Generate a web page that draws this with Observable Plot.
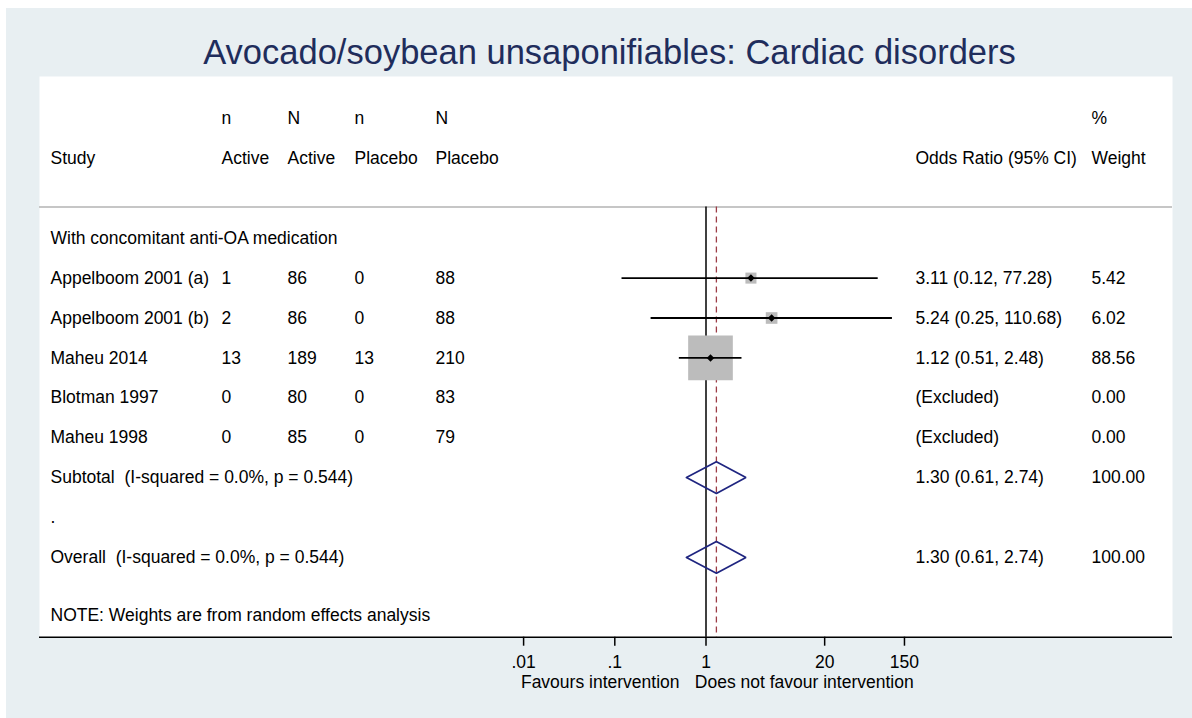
<!DOCTYPE html>
<html>
<head>
<meta charset="utf-8">
<script src="https://cdn.jsdelivr.net/npm/d3@7"></script>
<script src="https://cdn.jsdelivr.net/npm/@observablehq/plot@0.6"></script>
<style>
  html, body { margin: 0; padding: 0; background: #ffffff; }
  #chart { position: absolute; left: 6px; top: 8px; }
  svg text { white-space: pre; }
</style>
</head>
<body>
<div id="chart"></div>
<script>
// ---- data ----
const title = "Avocado/soybean unsaponifiables: Cardiac disorders";
const headerTop = ["", "n", "N", "n", "N", "", "%"];
const headerBottom = ["Study", "Active", "Active", "Placebo", "Placebo", "Odds Ratio (95% CI)", "Weight"];
const groupLabel = "With concomitant anti-OA medication";
const studies = ["Appelboom 2001 (a)", "Appelboom 2001 (b)", "Maheu 2014", "Blotman 1997", "Maheu 1998"];
const nActive = [1, 2, 13, 0, 0];
const NActive = [86, 86, 189, 80, 85];
const nPlacebo = [0, 0, 13, 0, 0];
const NPlacebo = [88, 88, 210, 83, 79];
const oddsRatio = [3.11, 5.24, 1.12, null, null];
const ciLow = [0.12, 0.25, 0.51, null, null];
const ciHigh = [77.28, 110.68, 2.48, null, null];
const weights = [5.42, 6.02, 88.56, 0.00, 0.00];
const pooledLabels = ["Subtotal  (I-squared = 0.0%, p = 0.544)", "Overall  (I-squared = 0.0%, p = 0.544)"];
const pooledOR = [1.30, 1.30];
const pooledLow = [0.61, 0.61];
const pooledHigh = [2.74, 2.74];
const pooledWeight = [100.00, 100.00];
const noteText = "NOTE: Weights are from random effects analysis";
const tickValues = [0.01, 0.1, 1, 20, 150];
const tickLabels = [".01", ".1", "1", "20", "150"];
const axisLeftLabel = "Favours intervention";
const axisRightLabel = "Does not favour intervention";

// ---- layout (rows) ----
const fmt = v => v.toFixed(2);
const studyRows = studies.map((s, i) => ({
  row: 4 + i,
  or: oddsRatio[i], lo: ciLow[i], hi: ciHigh[i], w: weights[i],
  cells: [s, String(nActive[i]), String(NActive[i]), String(nPlacebo[i]), String(NPlacebo[i]),
          oddsRatio[i] == null ? "(Excluded)" : `${fmt(oddsRatio[i])} (${fmt(ciLow[i])}, ${fmt(ciHigh[i])})`,
          fmt(weights[i])]
}));
const pooledRows = pooledLabels.map((l, i) => ({
  row: i === 0 ? 9 : 11,
  or: pooledOR[i], lo: pooledLow[i], hi: pooledHigh[i],
  cells: [l, "", "", "", "", `${fmt(pooledOR[i])} (${fmt(pooledLow[i])}, ${fmt(pooledHigh[i])})`, fmt(pooledWeight[i])]
}));
const textRows = [
  {row: 0, cells: headerTop},
  {row: 1, cells: headerBottom},
  {row: 3, cells: [groupLabel]},
  ...studyRows,
  ...pooledRows,
  {row: 10, cells: ["."]},
  {row: 12.45, cells: [noteText]}
];
const colOffsets = [11, 182, 248, 315, 396, 876, 1052];

const diamondHalf = 0.4;
const diamondPts = pooledRows.flatMap((d, k) => [
  {id: k, x: d.lo, y: d.row},
  {id: k, x: d.or, y: d.row - diamondHalf},
  {id: k, x: d.hi, y: d.row},
  {id: k, x: d.or, y: d.row + diamondHalf},
  {id: k, x: d.lo, y: d.row}
]);
const shown = studyRows.filter(d => d.or != null);
const sepRow = 2.22, axisRow = 13;

const navy = "#1f2580";
const textMarks = colOffsets.map((dx, c) =>
  Plot.text(textRows.filter(r => r.cells[c]), {
    y: "row", text: r => r.cells[c], frameAnchor: "left", dx, textAnchor: "start", fill: "black"
  })
);

const chart = Plot.plot({
  width: 1186,
  height: 710,
  marginLeft: 33,
  marginRight: 20,
  marginTop: 68,
  marginBottom: 81.3,
  style: {fontFamily: "'Liberation Sans', Arial, Helvetica, sans-serif", fontSize: "17.5px", background: "#e8eff2", color: "black"},
  x: {type: "log", domain: [Math.pow(10, -7.308), Math.pow(10, 5.115)], range: [33, 1166]},
  y: {type: "linear", domain: [0, 13], range: [110, 628.7], axis: null},
  r: {type: "sqrt", domain: [0, 88.56], range: [0, 25.2]},
  marks: [
    Plot.frame({fill: "white", stroke: "none"}),
    Plot.text([title], {frameAnchor: "top", dy: -24, dx: 3.5, lineAnchor: "middle", fontSize: 34.5, fill: "#1f2d5c"}),
    Plot.ruleY([sepRow], {stroke: "#c6c6c6", strokeWidth: 2}),
    Plot.ruleX([1], {y1: sepRow, y2: axisRow, stroke: "black", strokeWidth: 1.5}),
    Plot.ruleX([pooledOR[1]], {y1: sepRow, y2: axisRow, stroke: "#9c3c46", strokeWidth: 1.3, strokeDasharray: "6,4"}),
    Plot.dot(shown, {x: "or", y: "row", r: "w", symbol: "square", fill: "#bcbcbc", stroke: "none"}),
    Plot.ruleY(shown, {y: "row", x1: "lo", x2: "hi", stroke: "black", strokeWidth: 1.8}),
    Plot.dot(shown, {x: "or", y: "row", r: 3.4, symbol: "diamond2", fill: "black", stroke: "none"}),
    Plot.line(diamondPts, {x: "x", y: "y", z: "id", stroke: navy, strokeWidth: 1.7, strokeLinejoin: "miter"}),
    ...textMarks,
    Plot.ruleY([axisRow], {stroke: "black", strokeWidth: 1.6}),
    Plot.axisX({ticks: tickValues, tickFormat: d => tickLabels[tickValues.indexOf(d)], tickSize: 9, tickPadding: 9, strokeWidth: 1.5, label: null}),
    Plot.text([1], {x: d => d, y: 14.13, text: () => axisLeftLabel, textAnchor: "end", dx: -26.5}),
    Plot.text([1], {x: d => d, y: 14.13, text: () => axisRightLabel, textAnchor: "start", dx: -11.2})
  ]
});
document.getElementById("chart").appendChild(chart);
</script>
</body>
</html>
